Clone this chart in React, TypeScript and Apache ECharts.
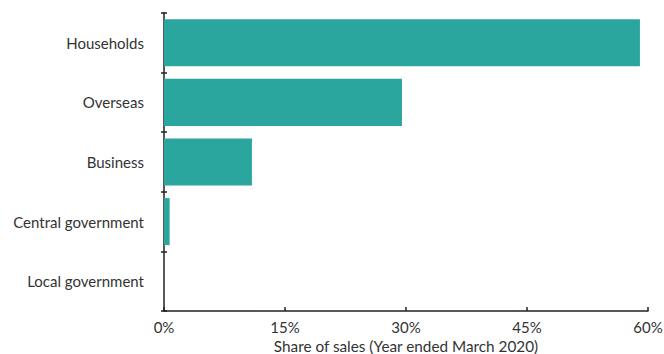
import React, { useEffect, useRef } from "react";
import * as echarts from "echarts";

const categories = ["Households", "Overseas", "Business", "Central government", "Local government"];
const shares = [59.0, 29.5, 10.9, 0.7, 0];
const xTicks = [0, 15, 30, 45, 60];

export default function App() {
  const ref = useRef<HTMLDivElement>(null);
  useEffect(() => {
    document.body.style.margin = "0";
    const chart = echarts.init(ref.current!, null, { renderer: "svg" });
    const font = "Lato, 'Noto Sans', sans-serif";
    chart.setOption({
      animation: false,
      grid: { left: 164, right: 16, top: 13, bottom: 43, containLabel: false, outerBoundsMode: "none" },
      xAxis: {
        type: "value",
        min: xTicks[0],
        max: xTicks[xTicks.length - 1],
        interval: 15,
        name: "Share of sales (Year ended March 2020)",
        nameLocation: "middle",
        nameGap: 27,
        nameTextStyle: { color: "#333", fontSize: 15.3, fontFamily: font },
        axisLine: { show: true, lineStyle: { color: "#222", width: 1.5 } },
        axisTick: { show: true, inside: true, length: 4, lineStyle: { color: "#222", width: 1.5 } },
        axisLabel: { color: "#333", fontSize: 15, fontFamily: font, margin: 8, formatter: "{value}%" },
        splitLine: { show: false },
      },
      yAxis: [
        {
          type: "category",
          data: categories,
          inverse: true,
          axisLine: { show: true, lineStyle: { color: "#222", width: 1.5 } },
          axisTick: { show: true, length: 3, lineStyle: { color: "#222", width: 1.5 } },
          axisLabel: { color: "#333", fontSize: 15, fontFamily: font, margin: 20 },
        },
        {
          type: "category",
          data: categories,
          inverse: true,
          position: "left",
          axisLine: { show: false },
          axisTick: { show: true, inside: true, length: 3, lineStyle: { color: "#222", width: 1.5 } },
          axisLabel: { show: false },
        },
      ],
      series: [
        {
          type: "bar",
          data: shares,
          barWidth: "79%",
          itemStyle: { color: "#2aa69e" },
        },
      ],
    });
    return () => chart.dispose();
  }, []);
  return <div ref={ref} style={{ width: 664, height: 354 }} />;
}
